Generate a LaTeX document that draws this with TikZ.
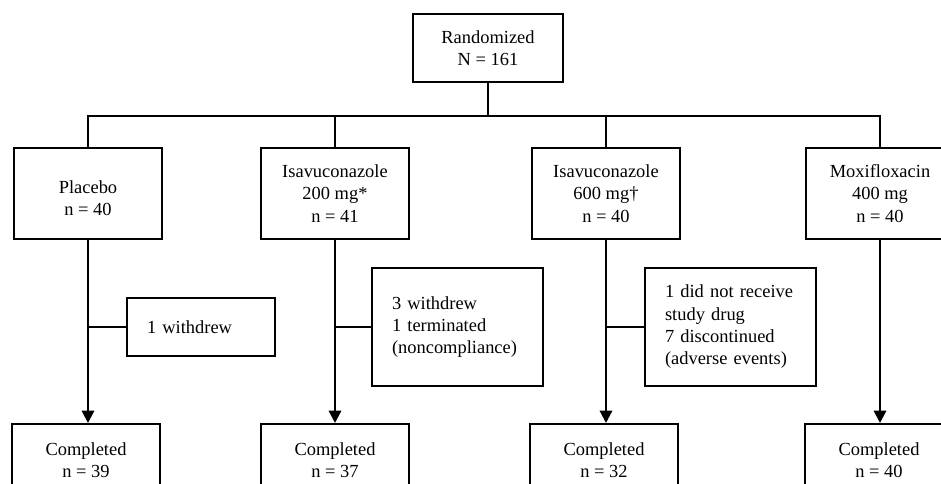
\documentclass[tikz,border=0pt]{standalone}
\usepackage{fontspec}
\setmainfont{Liberation Serif}
\usetikzlibrary{arrows.meta, positioning, calc}

\begin{document}
\begin{tikzpicture}[x=0.02cm, y=-0.02cm,
  every node/.style={draw, align=center, font=\fontsize{10.5}{12.7}\selectfont,
                     inner sep=0pt, line width=1.2pt},
  armbox/.style={minimum width=2.96cm, minimum height=1.82cm},
  donebox/.style={minimum width=2.96cm, minimum height=1.44cm, anchor=north},
  sidebox/.style={align=left, inner xsep=0.4cm, text width=2.62cm, minimum height=2.36cm},
  link/.style={line width=1.2pt},
  flow/.style={link, -{Triangle[length=7pt, width=7pt]}}]
  \clip (0,0) rectangle (941,484);
  \node[minimum width=3cm, minimum height=1.36cm] (rand) at (488,48) {Randomized\\N = 161};
  \node[armbox] (placebo) at (88,193.5) {\rule{0pt}{13pt}Placebo\\n = 40};
  \node[armbox] (isa200) at (335,193.5) {Isavuconazole\\200 mg*\\n = 41};
  \node[armbox] (isa600) at (606,193.5) {Isavuconazole\\600 mg†\\n = 40};
  \node[armbox] (moxi) at (880,193.5) {Moxifloxacin\\400 mg\\n = 40};
  \node[sidebox, text width=2.16cm, minimum height=1.16cm] (out1) at (201,327) {1 withdrew};
  \node[sidebox] (out2) at (457.5,327) {3 withdrew\\1 terminated\\(noncompliance)};
  \node[sidebox] (out3) at (730.5,327) {1 did not receive\\study drug\\7 discontinued\\(adverse events)};
  \node[donebox] (done1) at (86,423) {Completed\\n = 39};
  \node[donebox] (done2) at (335,423) {Completed\\n = 37};
  \node[donebox] (done3) at (604,423) {Completed\\n = 32};
  \node[donebox] (done4) at (879,423) {Completed\\n = 40};
  \coordinate (bus) at (488,116);
  \draw[link] (rand) -- (bus);
  \draw[link] (placebo.north) -- (placebo.north |- bus) -| (moxi.north);
  \draw[link] (isa200.north) -- (isa200.north |- bus);
  \draw[link] (isa600.north) -- (isa600.north |- bus);
  \draw[flow] (placebo.south) -- (placebo.south |- done1.north);
  \draw[flow] (isa200.south) -- (isa200.south |- done2.north);
  \draw[flow] (isa600.south) -- (isa600.south |- done3.north);
  \draw[flow] (moxi.south) -- (moxi.south |- done4.north);
  \draw[link] (out1.west) -- (out1.west -| placebo.south);
  \draw[link] (out2.west) -- (out2.west -| isa200.south);
  \draw[link] (out3.west) -- (out3.west -| isa600.south);
\end{tikzpicture}
\end{document}
